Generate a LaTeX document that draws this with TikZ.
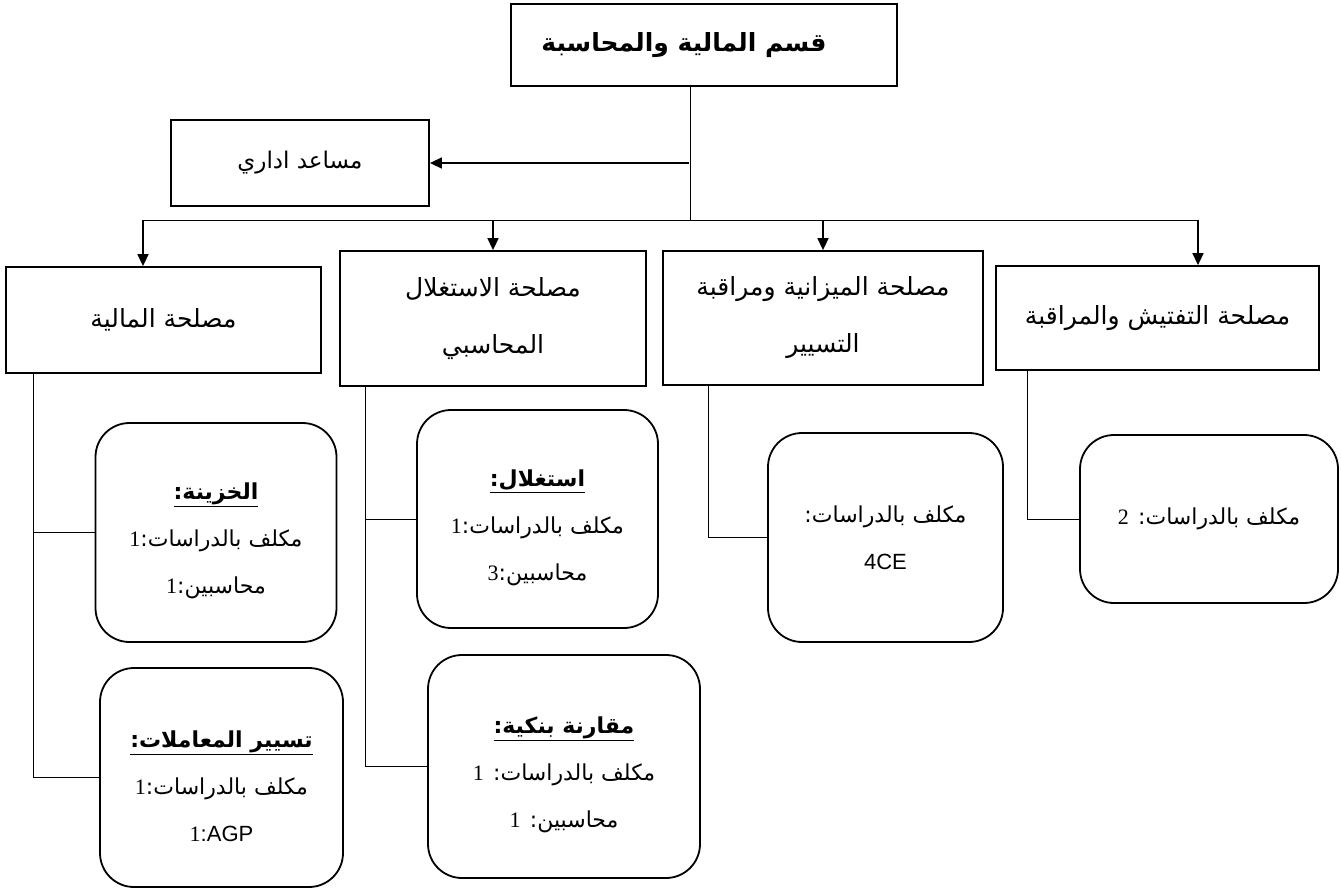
\documentclass[tikz,border=0pt]{standalone}
\usepackage{fontspec}
\usetikzlibrary{arrows.meta}
\TeXXeTstate=1
\newfontfamily\arabicfont[Script=Arabic]{DejaVu Sans}
\newfontfamily\tnr{Liberation Serif}
\newfontfamily\arl{Liberation Sans}
\newcommand\toppad{\rule{0pt}{34pt}}
\begin{document}
\begin{tikzpicture}[x=1pt,y=-1pt,
  box/.style={draw, line width=1.8pt, inner sep=0pt, align=center, font=\arabicfont\fontsize{25}{57}\selectfont},
  rbox/.style={draw, line width=1.8pt, rounded corners=34pt, inner sep=0pt, align=center, font=\arabicfont\fontsize{22}{47}\selectfont},
  conn/.style={line width=0.8pt},
  arr/.style={line width=1.6pt, -{Triangle[length=12pt,width=11pt]}}]
\useasboundingbox (0,0) rectangle (1341,889);

% top level
\node[box, line width=2.2pt, minimum width=386pt, minimum height=82pt, font=\arabicfont\bfseries\fontsize{25}{30}\selectfont] (top) at (704,45) {\beginR قسم المالية والمحاسبة\endR\kern40pt};
\node[box, minimum width=258pt, minimum height=86pt, font=\arabicfont\fontsize{23}{28}\selectfont] (asst) at (300,163) {\beginR مساعد اداري\endR};

% departments
\node[box, minimum width=315pt, minimum height=106pt] (b1) at (163.5,320) {\beginR مصلحة المالية\endR};
\node[box, minimum width=306pt, minimum height=135pt] (b2) at (493,318.5) {\beginR مصلحة الاستغلال\endR\\\beginR المحاسبي\endR};
\node[box, minimum width=320pt, minimum height=134pt] (b3) at (823,318) {\beginR مصلحة الميزانية ومراقبة\endR\\\beginR التسيير\endR};
\node[box, minimum width=323pt, minimum height=104pt] (b4) at (1157.5,318) {\beginR مصلحة التفتيش والمراقبة\endR};

% units
\node[rbox, minimum width=241pt, minimum height=219pt] (r1) at (216,532.5)
  {\toppad\underline{\bfseries\beginR الخزينة:\endR}\\\beginR مكلف بالدراسات:{\tnr 1}\endR\\\beginR محاسبين:{\tnr 1}\endR};
\node[rbox, minimum width=243pt, minimum height=219pt] (r2) at (221.5,777.5)
  {\toppad\underline{\bfseries\beginR تسيير المعاملات:\endR}\\\beginR مكلف بالدراسات:{\tnr 1}\endR\\{\tnr 1}{\arl :AGP}};
\node[rbox, minimum width=241pt, minimum height=218pt] (r3) at (537.5,519)
  {\toppad\underline{\bfseries\beginR استغلال:\endR}\\\beginR مكلف بالدراسات:{\tnr 1}\endR\\\beginR محاسبين:{\tnr 3}\endR};
\node[rbox, minimum width=272pt, minimum height=223pt] (r4) at (564,766.5)
  {\toppad\underline{\bfseries\beginR مقارنة بنكية:\endR}\\\beginR مكلف بالدراسات: {\tnr 1}\endR\\\beginR محاسبين: {\tnr 1}\endR};
\node[rbox, minimum width=235pt, minimum height=209pt] (r5) at (885.5,537.5)
  {\beginR مكلف بالدراسات:\endR\\{\arl 4CE}};
\node[rbox, minimum width=258pt, minimum height=168pt] (r6) at (1209,519)
  {\beginR مكلف بالدراسات: {\tnr 2}\endR};

% connectors
\coordinate (j) at (690,220);
\coordinate (ja) at (689,163);
\coordinate (bl) at (143,220);
\coordinate (br) at (1198,220);
\draw[conn] (top.south -| j) -- (j);
\draw[arr] (ja) -- (asst.east);
\draw[conn] (bl) -- (br);
\draw[arr] (bl) -- (bl |- b1.north);
\draw[arr] (b2.north |- j) -- (b2.north);
\draw[arr] (b3.north |- j) -- (b3.north);
\draw[arr] (br) -- (br |- b4.north);

\draw[conn] ([xshift=28pt]b1.south west) |- (r1.west);
\draw[conn] ([xshift=28pt]b1.south west) |- (r2.west);
\draw[conn] ([xshift=26pt]b2.south west) |- (r3.west);
\draw[conn] ([xshift=26pt]b2.south west) |- (r4.west);
\draw[conn] ([xshift=46pt]b3.south west) |- (r5.west);
\draw[conn] ([xshift=32pt]b4.south west) |- (r6.west);
\end{tikzpicture}
\end{document}
